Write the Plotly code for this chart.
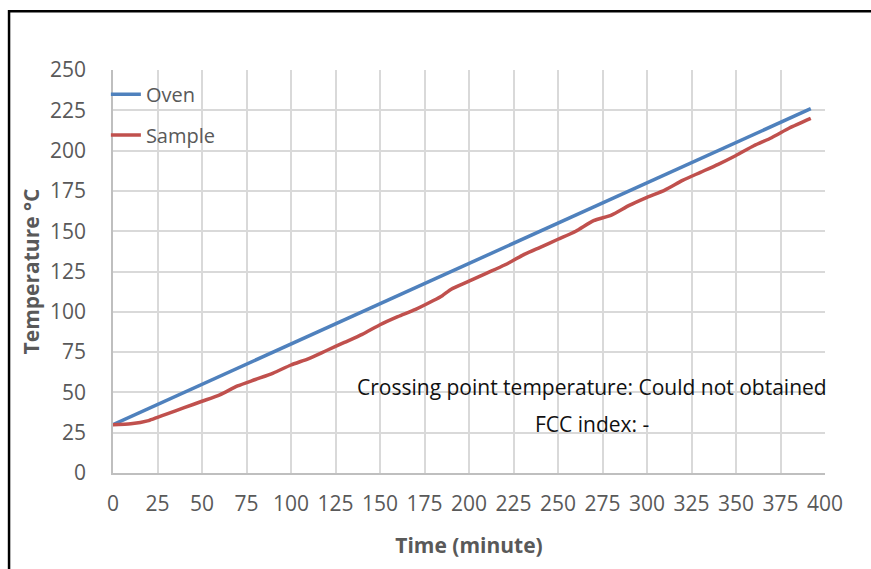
import plotly.graph_objects as go

time_oven = [0, 392]
temp_oven = [30, 226]

time_sample = [0, 10, 20, 25, 30, 40, 50, 60, 70, 80, 90, 100, 110, 120, 130, 140, 150,
               160, 170, 180, 185, 190, 200, 210, 220, 230, 240, 250, 260, 270, 280, 290,
               300, 310, 320, 330, 340, 350, 360, 370, 380, 392]
temp_sample = [30, 30.5, 32.5, 34.5, 36.5, 40.5, 44.5, 48.5, 54, 58, 62, 67, 71, 76, 81, 86, 92,
               97, 101.5, 107, 110, 114, 119, 124, 129, 135, 140, 145, 150, 156.5, 160, 166,
               171, 175.5, 181.5, 186.5, 191.5, 197, 203, 208, 214, 220]

x_ticks = list(range(0, 401, 25))
y_ticks = list(range(0, 251, 25))

fig = go.Figure()
fig.add_trace(go.Scatter(x=time_oven, y=temp_oven, mode="lines", name="Oven",
                         line=dict(color="#4F81BD", width=3.5), legend="legend"))
fig.add_trace(go.Scatter(x=time_sample, y=temp_sample, mode="lines", name="Sample",
                         line=dict(color="#C0504D", width=3.5, shape="spline", smoothing=0.6),
                         legend="legend2"))

grid = "#D9D9D9"
leg_font = dict(size=20, color="#595959")
fig.update_layout(
    width=871, height=569,
    margin=dict(l=113, r=46, t=70, b=96),
    paper_bgcolor="white", plot_bgcolor="white",
    font=dict(family="Open Sans, Liberation Sans, sans-serif", color="#595959", size=21),
    showlegend=True,
    legend=dict(x=-0.01, y=0.940, xanchor="left", yanchor="middle", bgcolor="rgba(0,0,0,0)",
                font=leg_font),
    legend2=dict(x=-0.01, y=0.839, xanchor="left", yanchor="middle", bgcolor="rgba(0,0,0,0)",
                 font=leg_font),
    xaxis=dict(range=[0, 400], tickvals=x_ticks, ticktext=[str(v) for v in x_ticks],
               showgrid=True, gridcolor=grid, gridwidth=1.5, zeroline=False,
               showline=True, linecolor="#BFBFBF", linewidth=1.5, mirror=False,
               ticks="", ticklabelstandoff=11,
               title=dict(text="<b>Time (minute)</b>", font=dict(size=21, color="#595959"),
                          standoff=22)),
    yaxis=dict(range=[0, 250], tickvals=y_ticks, ticktext=[str(v) for v in y_ticks],
               showgrid=True, gridcolor=grid, gridwidth=1.5, zeroline=False,
               showline=True, linecolor="#BFBFBF", linewidth=1.5,
               ticks="", ticklabelstandoff=21,
               title=dict(text="<b>Temperature °C</b>", font=dict(size=21, color="#595959"),
                          standoff=5)),
    shapes=[dict(type="rect", xref="paper", yref="paper",
                 x0=-0.146, y0=-0.5, x1=1.2, y1=1.146,
                 line=dict(color="black", width=2.5), fillcolor="rgba(0,0,0,0)", layer="above")],
    annotations=[
        dict(x=269, y=53.3, xref="x", yref="y", showarrow=False,
             text="Crossing point temperature: Could not obtained",
             font=dict(size=21, color="#111111", family="Open Sans, sans-serif"), xanchor="center"),
        dict(x=269, y=30.4, xref="x", yref="y", showarrow=False,
             text="FCC index: -",
             font=dict(size=21, color="#111111", family="Open Sans, sans-serif"), xanchor="center"),
    ],
)

fig.write_html("out.html", config={"displayModeBar": False})

with open("out.html", "r", encoding="utf-8") as f:
    html = f.read()
html = html.replace("<body>", '<body style="margin:0;padding:0;">', 1)
html = html.replace("<head>", '<head><style>html,body{margin:0;padding:0;overflow:hidden;}</style>', 1)
with open("out.html", "w", encoding="utf-8") as f:
    f.write(html)
